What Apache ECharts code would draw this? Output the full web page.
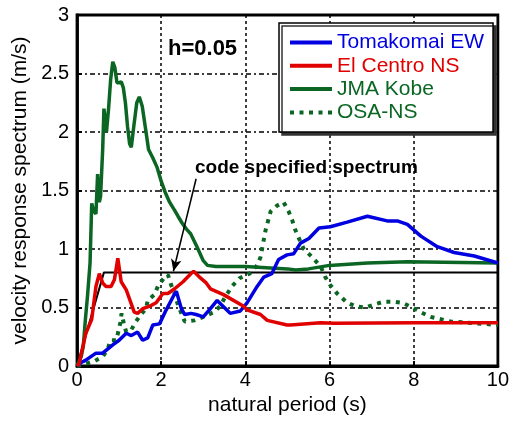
<!DOCTYPE html>
<html><head><meta charset="utf-8">
<script src="https://cdn.jsdelivr.net/npm/echarts@6/dist/echarts.min.js"></script>
<style>html,body{margin:0;padding:0;background:#fff}#c{width:512px;height:421px}</style>
</head><body><div id="c"></div>
<script>
const tomakomaiT = [0,0.1,0.21,0.45,0.61,0.85,1.0,1.17,1.29,1.44,1.56,1.68,1.80,1.96,2.12,2.28,2.36,2.48,2.56,2.71,2.83,3.0,3.17,3.33,3.5,3.64,3.88,4.04,4.28,4.44,4.63,4.79,4.99,5.15,5.31,5.51,5.75,6.02,6.42,6.9,7.37,7.61,7.85,8.17,8.56,8.96,9.44,10];
const tomakomaiV = [0,0.03,0.05,0.11,0.11,0.18,0.22,0.28,0.26,0.29,0.22,0.24,0.35,0.36,0.48,0.59,0.64,0.49,0.44,0.45,0.44,0.42,0.49,0.56,0.50,0.45,0.47,0.54,0.68,0.76,0.79,0.91,0.95,0.96,1.05,1.09,1.18,1.19,1.23,1.28,1.24,1.24,1.21,1.11,1.02,0.97,0.94,0.88];

const elcentroT = [0,0.05,0.21,0.35,0.45,0.53,0.61,0.69,0.81,0.89,0.97,1.05,1.17,1.36,1.44,1.56,1.72,1.88,2.04,2.16,2.32,2.52,2.71,2.77,2.91,3.07,3.17,3.48,3.96,4.04,4.36,4.52,4.99,5.07,5.79,6.1,8.09,10];
const elcentroV = [0,0.02,0.28,0.40,0.68,0.79,0.71,0.68,0.68,0.74,0.92,0.72,0.65,0.46,0.45,0.49,0.51,0.54,0.62,0.62,0.66,0.72,0.79,0.81,0.76,0.71,0.66,0.61,0.51,0.48,0.44,0.39,0.35,0.35,0.37,0.365,0.37,0.37];

const kobeT = [0,0.1,0.15,0.2,0.25,0.31,0.35,0.39,0.45,0.49,0.53,0.56,0.61,0.64,0.68,0.70,0.73,0.75,0.8,0.85,0.9,0.95,1.0,1.05,1.1,1.15,1.2,1.25,1.29,1.35,1.42,1.48,1.55,1.62,1.7,1.8,1.9,2.0,2.1,2.2,2.32,2.4,2.5,2.6,2.7,2.85,3.0,3.1,3.3,4.0,4.5,5.0,5.2,5.5,6.0,6.9,7.85,10];
const kobeV = [0,0.08,0.17,0.4,0.6,0.88,1.39,1.33,1.30,1.64,1.40,1.45,1.85,2.2,2.2,2.0,2.0,2.2,2.45,2.6,2.55,2.42,2.42,2.43,2.38,2.25,2.05,1.9,1.87,2.05,2.25,2.3,2.22,2.05,1.85,1.78,1.7,1.58,1.48,1.4,1.33,1.28,1.22,1.17,1.13,1.02,0.9,0.86,0.85,0.85,0.84,0.83,0.82,0.83,0.86,0.88,0.89,0.88];

const osaT = [0,0.21,0.41,0.61,0.73,0.79,0.93,0.98,1.03,1.06,1.12,1.17,1.29,1.4,1.52,1.64,1.68,1.84,1.92,2.08,2.16,2.24,2.32,2.4,2.56,2.79,3.0,3.25,3.4,3.52,3.68,3.86,4.1,4.28,4.36,4.48,4.6,4.75,4.91,5.03,5.11,5.19,5.31,5.39,5.59,5.79,5.9,6.02,6.18,6.42,6.62,6.86,7.1,7.29,7.53,7.73,7.97,8.17,8.4,8.64,8.88,9.28,9.68,10];
const osaV = [0,0.02,0.04,0.08,0.14,0.22,0.22,0.29,0.37,0.45,0.35,0.29,0.31,0.38,0.44,0.49,0.56,0.61,0.68,0.76,0.78,0.69,0.62,0.52,0.38,0.39,0.42,0.46,0.51,0.59,0.68,0.75,0.79,0.86,0.93,1.16,1.32,1.37,1.40,1.32,1.25,1.16,1.06,1.0,0.93,0.85,0.76,0.69,0.62,0.54,0.51,0.50,0.53,0.55,0.55,0.54,0.50,0.46,0.42,0.40,0.38,0.37,0.36,0.35];

const codeT = [0, 0.64, 10];
const codeV = [0, 0.8, 0.8];
const arrowFrom = [2.83, 1.6];
const arrowTo = [2.29, 0.81];

const seriesNames = ['Tomakomai EW', 'El Centro NS', 'JMA Kobe', 'OSA-NS'];
const colors = ['#0000e0', '#e00000', '#0b6623', '#0b6623'];

const FONT = 'Liberation Sans, Arial, sans-serif';
function pairs(t, v) { return t.map((x, i) => [x, v[i]]); }

const chart = echarts.init(document.getElementById('c'), null, {renderer: 'canvas'});
const lineW = 3.5;
chart.setOption({
  animation: false,
  backgroundColor: '#fff',
  grid: {left: 77, right: 14, top: 15, bottom: 55, show: true, borderColor: '#000', borderWidth: 2.8, backgroundColor: 'transparent'},
  xAxis: {
    type: 'value', min: 0, max: 10, interval: 2,
    name: 'natural period (s)', nameLocation: 'middle', nameGap: 28,
    nameTextStyle: {fontFamily: FONT, fontSize: 21, color: '#000'},
    axisLine: {show: true, lineStyle: {color: '#000', width: 2.8}},
    axisTick: {show: true, inside: true, length: 5, lineStyle: {color: '#000', width: 2}},
    axisLabel: {fontFamily: FONT, fontSize: 20, color: '#000', margin: 4},
    splitLine: {show: true, lineStyle: {color: '#000', width: 1.5, type: [3, 3]}}
  },
  yAxis: {
    type: 'value', min: 0, max: 3, interval: 0.5,
    name: 'velocity response spectrum (m/s)', nameLocation: 'middle', nameGap: 41,
    nameTextStyle: {fontFamily: FONT, fontSize: 21, color: '#000'},
    axisLine: {show: true, lineStyle: {color: '#000', width: 2.8}},
    axisTick: {show: true, inside: true, length: 5, lineStyle: {color: '#000', width: 2}},
    axisLabel: {fontFamily: FONT, fontSize: 20, color: '#000', margin: 8},
    splitLine: {show: true, lineStyle: {color: '#000', width: 1.5, type: [5, 3, 2, 3]}}
  },
  legend: {
    data: seriesNames.map((n, i) => ({name: n, textStyle: {color: colors[i]}})),
    orient: 'vertical', left: 279, top: 23,
    padding: [9, 9, 9, 9],
    itemWidth: 42, itemHeight: 14, itemGap: 2.3,
    itemStyle: {opacity: 0},
    lineStyle: {width: 4},
    textStyle: {fontFamily: FONT, fontSize: 21, lineHeight: 20},
    backgroundColor: '#fff', borderColor: '#000', borderWidth: 1.5, borderRadius: 0,
    shadowColor: '#333', shadowOffsetX: 3, shadowOffsetY: 3, shadowBlur: 0
  },
  graphic: [
    {type: 'text', left: 168, top: 38, style: {text: 'h=0.05', font: 'bold 22px ' + FONT, fill: '#000'}},
    {type: 'text', left: 195, top: 158, style: {text: 'code specified spectrum', font: 'bold 19px ' + FONT, fill: '#000'}}
  ],
  series: [
    {
      name: 'code', type: 'line', data: pairs(codeT, codeV), symbol: 'none', silent: true,
      lineStyle: {color: '#000', width: 2}, z: 1,
      markLine: {
        silent: true, symbol: ['none', 'arrow'], symbolSize: [8, 12], animation: false,
        label: {show: false}, lineStyle: {color: '#000', width: 1.5, type: 'solid'},
        data: [[{coord: arrowFrom}, {coord: arrowTo}]]
      }
    },
    {name: seriesNames[0], type: 'line', data: pairs(tomakomaiT, tomakomaiV), symbol: 'none', color: colors[0], lineStyle: {color: colors[0], width: lineW}, z: 3},
    {name: seriesNames[1], type: 'line', data: pairs(elcentroT, elcentroV), symbol: 'none', color: colors[1], lineStyle: {color: colors[1], width: lineW}, z: 3},
    {name: seriesNames[2], type: 'line', data: pairs(kobeT, kobeV), symbol: 'none', color: colors[2], lineStyle: {color: colors[2], width: lineW}, z: 2},
    {name: seriesNames[3], type: 'line', data: pairs(osaT, osaV), symbol: 'none', color: colors[3], lineStyle: {color: colors[3], width: 4, type: [4, 5.5]}, z: 2}
  ]
});
</script>
</body></html>
